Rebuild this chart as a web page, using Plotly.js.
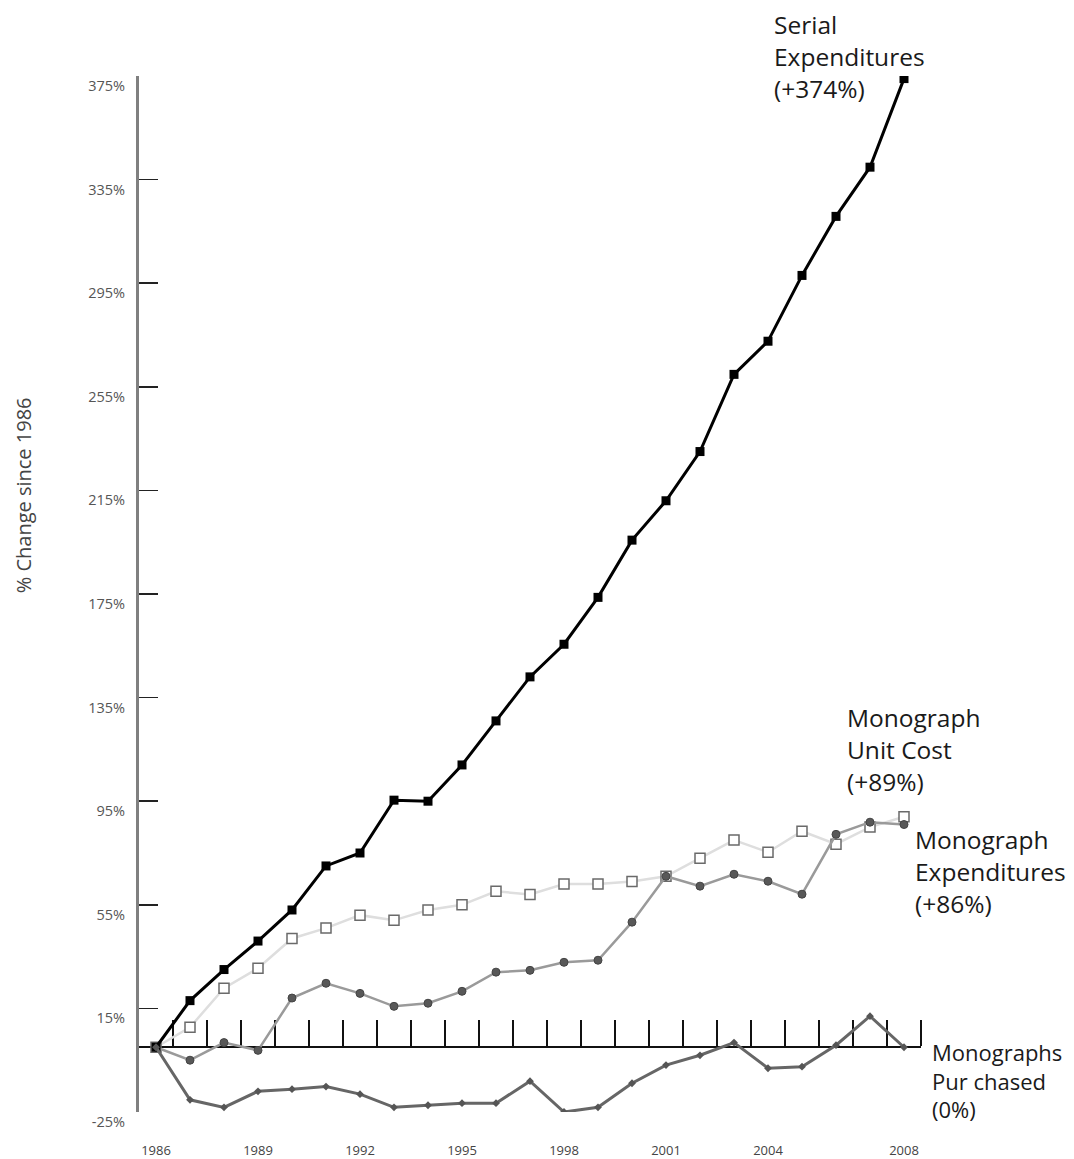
<!DOCTYPE html>
<html>
<head>
<meta charset="utf-8">
<script src="https://cdn.plot.ly/plotly-3.0.1.min.js"></script>
<style>html,body{margin:0;padding:0;background:#fff;}#chart{width:1074px;height:1159px;}</style>
</head>
<body>
<div id="chart"></div>
<script>
const years = [1986,1987,1988,1989,1990,1991,1992,1993,1994,1995,1996,1997,1998,1999,2000,2001,2002,2003,2004,2005,2006,2007,2008];
const serialExpenditures = [0,18,30,41,53,70,75,95.4,95,109,126,143,155.6,173.7,195.8,211,230,259.8,272.6,298,320.8,339.8,374];
const monographUnitCost = [0,7.7,22.8,30.5,42,46,51,49,53,55,60.2,59,63,63,64,66,73,80,75.3,83.4,78.4,85,89];
const monographExpenditures = [0,-5,1.8,-1.2,19,24.7,20.8,15.8,17,21.6,29,29.7,32.8,33.6,48.3,66,62.2,66.8,64.1,59.1,82.2,86.9,86];
const monographsPurchased = [0,-20.3,-23.2,-17,-16.2,-15.2,-18.1,-23.2,-22.4,-21.6,-21.6,-13.1,-25,-23.2,-13.9,-6.9,-3.1,1.8,-8.1,-7.5,0.8,12,0];
const xTickVals = [1986,1989,1992,1995,1998,2001,2004,2008];
const xTickText = ['1986','1989','1992','1995','1998','2001','2004','2008'];
const halfYearTicks = [1986.5,1987.5,1988.5,1989.5,1990.5,1991.5,1992.5,1993.5,1994.5,1995.5,1996.5,1997.5,1998.5,1999.5,2000.5,2001.5,2002.5,2003.5,2004.5,2005.5,2006.5,2007.5,2008.5];
const yTickVals = [-25,15,55,95,135,175,215,255,295,335,375];
const yTickText = ['-25%','15%','55%','95%','135%','175%','215%','255%','295%','335%','375%'];
const yTitle = '% Change since 1986';
const seriesLabels = ['Serial<br>Expenditures<br>(+374%)','Monograph<br>Unit Cost<br>(+89%)','Monograph<br>Expenditures<br>(+86%)','Monographs<br>Pur chased<br>(0%)'];

const FONT = '"Open Sans", "DejaVu Sans", sans-serif';

const traces = [
  {x: years, y: monographUnitCost, mode: 'lines+markers', name: 'Monograph Unit Cost',
   line: {color: '#dedede', width: 2.5},
   marker: {symbol: 'square', size: 10, color: '#ffffff', line: {color: '#6a6a6a', width: 1.5}}},
  {x: years, y: monographExpenditures, mode: 'lines+markers', name: 'Monograph Expenditures',
   line: {color: '#9a9a9a', width: 2.5},
   marker: {symbol: 'circle', size: 8, color: '#585858', line: {color: '#444', width: 1}}},
  {x: years, y: monographsPurchased, mode: 'lines+markers', name: 'Monographs Purchased', xaxis: 'x2',
   line: {color: '#666666', width: 3},
   marker: {symbol: 'diamond', size: 6, color: '#555555'}},
  {x: years, y: serialExpenditures, mode: 'lines+markers', name: 'Serial Expenditures',
   line: {color: '#000000', width: 3},
   marker: {symbol: 'square', size: 9, color: '#000000'}}
];

const layout = {
  width: 1074, height: 1159,
  margin: {l: 139, r: 153, t: 76, b: 47},
  paper_bgcolor: '#ffffff', plot_bgcolor: '#ffffff',
  showlegend: false,
  font: {family: FONT, color: '#222'},
  xaxis: {
    range: [1985.5, 2008.5], showgrid: false, zeroline: false, showline: false,
    tickmode: 'array', tickvals: xTickVals, ticktext: xTickText, ticks: '',
    ticklabelstandoff: 29, tickfont: {size: 13, color: '#444', family: FONT}
  },
  xaxis2: {
    range: [1985.5, 2008.5], overlaying: 'x', anchor: 'free', position: 0.0625, side: 'top',
    showgrid: false, zeroline: false, showline: true, linecolor: '#111', linewidth: 2,
    tickmode: 'array', tickvals: halfYearTicks, ticks: 'outside', ticklen: 26, tickwidth: 2, tickcolor: '#111',
    showticklabels: false, layer: 'below traces'
  },
  yaxis: {
    range: [-25, 375], showgrid: false, zeroline: false,
    showline: true, linecolor: '#808080', linewidth: 3,
    tickmode: 'array', tickvals: yTickVals, ticktext: yTickText,
    ticks: 'inside', ticklen: 19, tickwidth: 1.5, tickcolor: '#222',
    ticklabelshift: 10, ticklabelstandoff: 8,
    tickfont: {size: 14.5, color: '#555', family: FONT}
  },
  annotations: [
    {xref: 'paper', yref: 'paper', x: -0.148, y: 0.5955, xanchor: 'center', yanchor: 'middle', textangle: -90,
     text: yTitle, showarrow: false, font: {size: 20, color: '#444', family: FONT}},
    {xref: 'paper', yref: 'paper', x: 0.8095, y: 1.068, xanchor: 'left', yanchor: 'top', align: 'left',
     text: seriesLabels[0], showarrow: false, font: {size: 24.5, color: '#1a1a1a', family: FONT}},
    {xref: 'paper', yref: 'paper', x: 0.9028, y: 0.399, xanchor: 'left', yanchor: 'top', align: 'left',
     text: seriesLabels[1], showarrow: false, font: {size: 24.5, color: '#1a1a1a', family: FONT}},
    {xref: 'paper', yref: 'paper', x: 0.9898, y: 0.281, xanchor: 'left', yanchor: 'top', align: 'left',
     text: seriesLabels[2], showarrow: false, font: {size: 24.5, color: '#1a1a1a', family: FONT}},
    {xref: 'paper', yref: 'paper', x: 1.012, y: 0.074, xanchor: 'left', yanchor: 'top', align: 'left',
     text: seriesLabels[3], showarrow: false, font: {size: 22, color: '#1a1a1a', family: FONT}}
  ]
};

Plotly.newPlot('chart', traces, layout, {displayModeBar: false, staticPlot: true});
</script>
</body>
</html>
